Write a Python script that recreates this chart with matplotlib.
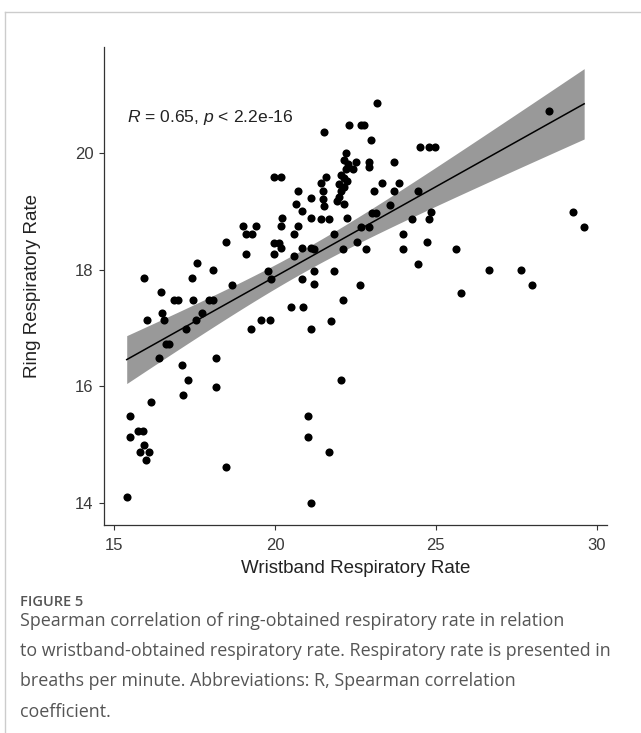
import numpy as np
import matplotlib
matplotlib.use("Agg")
import matplotlib.pyplot as plt

# wristband (x) and ring (y) respiratory rates
wrist = [
    22.30, 22.67, 22.77, 23.16, 21.53, 22.98, 24.50, 24.79, 24.97,
    22.20, 22.15, 22.28, 22.51, 22.20, 22.41, 22.04, 22.15, 22.25, 21.99,
    22.15, 22.04, 21.99, 21.94, 22.15, 22.25,
    22.92, 22.92, 23.70, 23.34, 23.86, 23.08, 23.70, 24.43, 23.58, 23.03,
    23.13, 24.84, 24.25, 24.79, 22.67, 22.92, 23.99, 22.56, 24.74, 22.10,
    22.82, 23.99, 25.64, 24.43, 26.65, 27.64, 27.98, 22.64, 25.77, 22.10,
    28.52, 29.26, 29.61, 22.04,
    19.97, 20.18, 21.58, 21.42, 20.70, 21.11, 21.48, 21.48, 21.53, 20.65,
    20.85, 21.11, 20.23, 21.42, 21.67, 18.99, 19.40, 19.09, 19.30, 20.18,
    20.70, 20.59, 19.97, 20.13, 20.18, 19.97, 19.09, 20.59, 20.85, 21.11,
    21.22, 21.84, 21.22, 21.84, 19.77, 19.87, 20.85, 21.22, 20.51, 20.87,
    19.56, 19.85, 19.25, 21.11, 21.73, 21.01, 21.01, 21.68, 21.11,
    18.49, 17.57, 18.08, 15.93, 17.41, 18.65, 16.45, 16.86, 16.97, 17.44,
    17.95, 18.06, 16.50, 16.55, 16.02, 17.72, 17.54, 17.23, 16.61, 16.71,
    16.40, 18.16, 17.10, 17.30, 18.16, 17.14, 16.14, 15.50, 15.50, 15.75,
    15.91, 15.93, 15.81, 16.09, 15.99, 18.49, 15.39,
]
ring = [
    20.47, 20.47, 20.47, 20.85, 20.35, 20.22, 20.10, 20.10, 20.10,
    19.99, 19.88, 19.81, 19.85, 19.73, 19.73, 19.62, 19.56, 19.51, 19.47,
    19.42, 19.34, 19.25, 19.17, 19.13, 18.88,
    19.85, 19.75, 19.85, 19.48, 19.48, 19.34, 19.34, 19.34, 19.11, 18.97,
    18.97, 18.99, 18.86, 18.86, 18.73, 18.73, 18.60, 18.48, 18.48, 18.36,
    18.36, 18.36, 18.36, 18.10, 17.99, 17.99, 17.74, 17.74, 17.60, 17.48,
    20.71, 18.98, 18.73, 16.11,
    19.59, 19.59, 19.59, 19.48, 19.35, 19.22, 19.34, 19.21, 19.08, 19.12,
    19.00, 18.88, 18.88, 18.87, 18.87, 18.74, 18.74, 18.60, 18.60, 18.74,
    18.74, 18.60, 18.46, 18.46, 18.37, 18.26, 18.26, 18.23, 18.37, 18.37,
    18.35, 18.60, 17.98, 17.98, 17.98, 17.84, 17.84, 17.75, 17.35, 17.35,
    17.13, 17.13, 16.99, 16.99, 17.12, 15.50, 15.13, 14.87, 14.00,
    18.47, 18.11, 17.99, 17.85, 17.85, 17.74, 17.61, 17.48, 17.48, 17.48,
    17.48, 17.48, 17.25, 17.13, 17.13, 17.25, 17.13, 16.99, 16.73, 16.73,
    16.49, 16.49, 16.36, 16.11, 15.99, 15.85, 15.74, 15.50, 15.13, 15.24,
    15.24, 14.99, 14.87, 14.87, 14.74, 14.62, 14.11,
]
x_ticks = [15, 20, 25, 30]
y_ticks = [14, 16, 18, 20]
stat_label = r"$\it{R}$ = 0.65, $\it{p}$ < 2.2e-16"
caption = ("Spearman correlation of ring-obtained respiratory rate in relation\n"
           "to wristband-obtained respiratory rate. Respiratory rate is presented in\n"
           "breaths per minute. Abbreviations: R, Spearman correlation\n"
           "coefficient.")

x = np.array(wrist)
y = np.array(ring)

# linear fit with 95% confidence band (like geom_smooth(method = "lm"))
n = len(x)
slope, inter = np.polyfit(x, y, 1)
xs = np.linspace(x.min(), x.max(), 80)
yhat = inter + slope * xs
resid = y - (inter + slope * x)
s = np.sqrt(np.sum(resid ** 2) / (n - 2))
sxx = np.sum((x - x.mean()) ** 2)
se = s * np.sqrt(1 / n + (xs - x.mean()) ** 2 / sxx)
t = 1.977
lo, hi = yhat - t * se, yhat + t * se

plt.rcParams["font.family"] = ["Liberation Sans", "DejaVu Sans"]
plt.rcParams["mathtext.fontset"] = "custom"
plt.rcParams["mathtext.it"] = "Liberation Sans:italic"
plt.rcParams["mathtext.rm"] = "Liberation Sans"

fig = plt.figure(figsize=(6.41, 7.33), dpi=100)
ax = fig.add_axes([0.162, 0.284, 0.785, 0.652])

ax.fill_between(xs, lo, hi, color="#999999", lw=0, zorder=1)
ax.scatter(x, y, s=34, color="black", lw=0, zorder=2)
ax.plot(xs, yhat, color="black", lw=1.1, zorder=3)

xr = x.max() - x.min()
ax.set_xlim(x.min() - 0.05 * xr, x.max() + 0.05 * xr)
ylo, yhi = min(y.min(), lo.min()), max(y.max(), hi.max())
yr = yhi - ylo
ax.set_ylim(ylo - 0.05 * yr, yhi + 0.05 * yr)

ax.set_xticks(x_ticks)
ax.set_yticks(y_ticks)
for sp in ["top", "right"]:
    ax.spines[sp].set_visible(False)
for sp in ["left", "bottom"]:
    ax.spines[sp].set_color("#333333")
    ax.spines[sp].set_linewidth(0.9)
ax.tick_params(length=3.5, width=0.8, color="#333333", labelsize=12,
               labelcolor="#3a3a3a", pad=4)
ax.tick_params(axis="x", pad=6)
ax.set_xlabel("Wristband Respiratory Rate", fontsize=13.5, color="#222222", labelpad=5)
ax.set_ylabel("Ring Respiratory Rate", fontsize=13.5, color="#222222", labelpad=24)

ax.text(15.4, 20.6, stat_label, fontsize=12.6, color="#222222",
        va="center", ha="left")

# page frame lines
fig.add_artist(plt.Line2D([5 / 641, 1], [1 - 12 / 733] * 2, color="#cccccc", lw=1))
fig.add_artist(plt.Line2D([5 / 641] * 2, [0, 1 - 12 / 733], color="#cccccc", lw=1))

fig.text(20 / 641, 1 - 602 / 733, "FIGURE 5", fontsize=10.5, color="#555555",
         family=["Open Sans", "DejaVu Sans"], weight="semibold", va="center")
fig.text(20 / 641, 1 - 612 / 733, caption, fontsize=12.9, color="#555555",
         family=["Open Sans", "DejaVu Sans"], va="top", linespacing=1.87)

fig.savefig("out.png", dpi=100)
